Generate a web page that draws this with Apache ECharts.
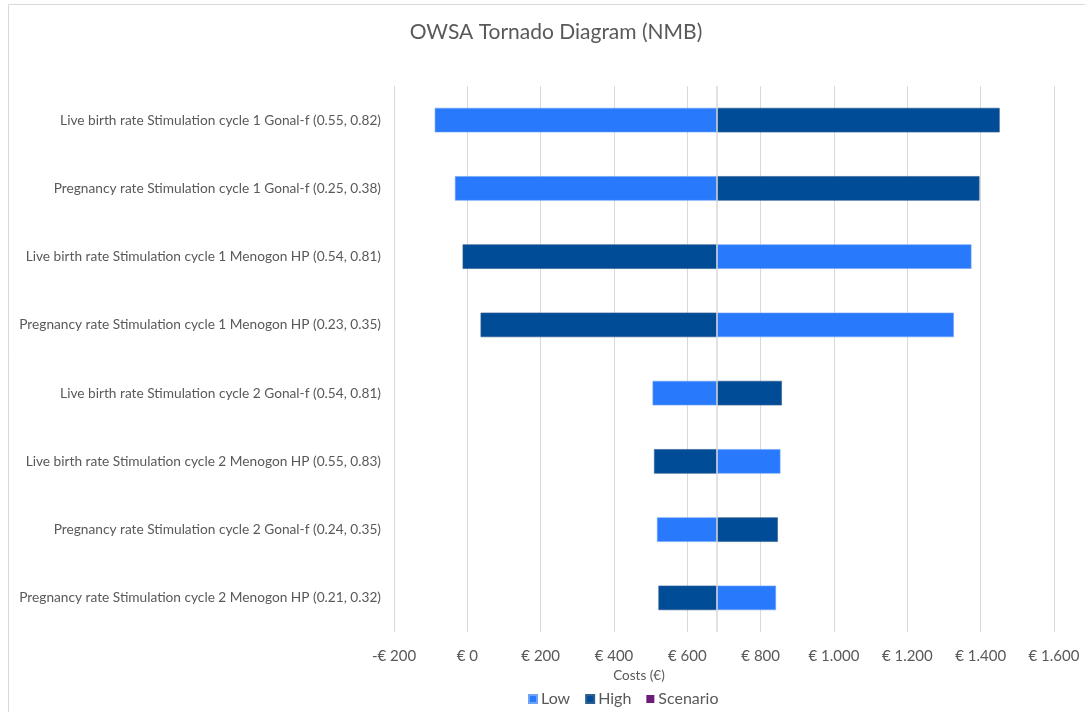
<!DOCTYPE html>
<html>
<head>
<meta charset="utf-8">
<script src="https://cdn.jsdelivr.net/npm/echarts@6/dist/echarts.min.js"></script>
<style>
  html, body { margin: 0; padding: 0; background: #fff; }
  #chart { width: 1085px; height: 712px; }
</style>
</head>
<body>
<div id="chart"></div>
<script>
// OWSA tornado diagram (NMB)
const categories = [
  'Live birth rate Stimulation cycle 1 Gonal-f (0.55, 0.82)',
  'Pregnancy rate Stimulation cycle 1 Gonal-f (0.25, 0.38)',
  'Live birth rate Stimulation cycle 1 Menogon HP (0.54, 0.81)',
  'Pregnancy rate Stimulation cycle 1 Menogon HP (0.23, 0.35)',
  'Live birth rate Stimulation cycle 2 Gonal-f (0.54, 0.81)',
  'Live birth rate Stimulation cycle 2 Menogon HP (0.55, 0.83)',
  'Pregnancy rate Stimulation cycle 2 Gonal-f (0.24, 0.35)',
  'Pregnancy rate Stimulation cycle 2 Menogon HP (0.21, 0.32)'
]
const baseValue = 680
const lowValues = [-88, -33, 1374, 1326, 506, 853, 518, 841]
const highValues = [1451, 1396, -12, 37, 857, 510, 846, 522]
const scenarioValues = []

const FONT = 'Lato, "Open Sans", sans-serif'
const TEXT = '#595959'

const chart = echarts.init(document.getElementById('chart'))

// bar drawn from the base value to the given value
const renderBar = (params, api) => {
  const start = api.coord([baseValue, api.value(1)])
  const end = api.coord([api.value(0), api.value(1)])
  const h = api.size([0, 1])[1] * 0.35
  return {
    type: 'rect',
    shape: {
      x: Math.min(start[0], end[0]),
      y: start[1] - h / 2,
      width: Math.abs(end[0] - start[0]),
      height: h
    },
    style: api.style()
  }
}

const toData = (arr) => arr.map((v, i) => [v, i])

const euro = (v) => {
  const s = Math.abs(v).toString().replace(/\B(?=(\d{3})+(?!\d))/g, '.')
  return (v < 0 ? '-€ ' : '€ ') + s
}

chart.setOption({
  backgroundColor: '#fff',
  animation: false,
  textStyle: { fontFamily: FONT },
  title: [
    {
      text: 'OWSA Tornado Diagram (NMB)',
      left: 551,
      top: 17,
      textAlign: 'center',
      textStyle: { color: TEXT, fontSize: 21, fontWeight: 'normal', fontFamily: FONT }
    },
    {
      text: 'Costs (€)',
      left: 634,
      top: 664,
      textAlign: 'center',
      textStyle: { color: TEXT, fontSize: 13.5, fontWeight: 'normal', fontFamily: FONT }
    }
  ],
  graphic: [
    {
      type: 'rect',
      shape: { x: 8.5, y: 4.5, width: 1100, height: 720 },
      style: { fill: 'none', stroke: '#d9d9d9', lineWidth: 1 },
      silent: true
    }
  ],
  legend: {
    left: 523,
    top: 686,
    icon: 'rect',
    itemWidth: 8,
    itemHeight: 8,
    itemGap: 15,
    textStyle: { color: TEXT, fontSize: 16, fontFamily: FONT, padding: [0, 0, 0, -1] },
    data: ['Low', 'High', 'Scenario']
  },
  grid: { left: 394, right: 31, top: 86, bottom: 80 },
  xAxis: {
    type: 'value',
    min: -200,
    max: 1600,
    interval: 200,
    axisLine: { show: false },
    axisTick: { show: false },
    splitLine: { lineStyle: { color: '#d9d9d9', width: 1 } },
    axisLabel: { color: TEXT, fontSize: 15, margin: 17, formatter: euro }
  },
  yAxis: {
    type: 'category',
    inverse: true,
    data: categories,
    axisLine: { show: false },
    axisTick: { show: false },
    splitLine: { show: false },
    axisLabel: { color: TEXT, fontSize: 13.7, margin: 13 }
  },
  series: [
    {
      name: 'Low',
      type: 'custom',
      renderItem: renderBar,
      encode: { x: 0, y: 1 },
      itemStyle: { color: '#2979fd', borderColor: '#6fa4f5', borderWidth: 0.6 },
      data: toData(lowValues)
    },
    {
      name: 'High',
      type: 'custom',
      renderItem: renderBar,
      encode: { x: 0, y: 1 },
      itemStyle: { color: '#004c97', borderColor: '#2f5d8e', borderWidth: 0.6 },
      data: toData(highValues),
      markLine: {
        silent: true,
        symbol: 'none',
        label: { show: false },
        lineStyle: { color: '#d9d9d9', type: 'solid', width: 1.5 },
        data: [{ xAxis: baseValue }]
      }
    },
    {
      name: 'Scenario',
      type: 'custom',
      renderItem: renderBar,
      encode: { x: 0, y: 1 },
      itemStyle: { color: '#6c1d7a' },
      data: toData(scenarioValues)
    }
  ]
})
</script>
</body>
</html>
